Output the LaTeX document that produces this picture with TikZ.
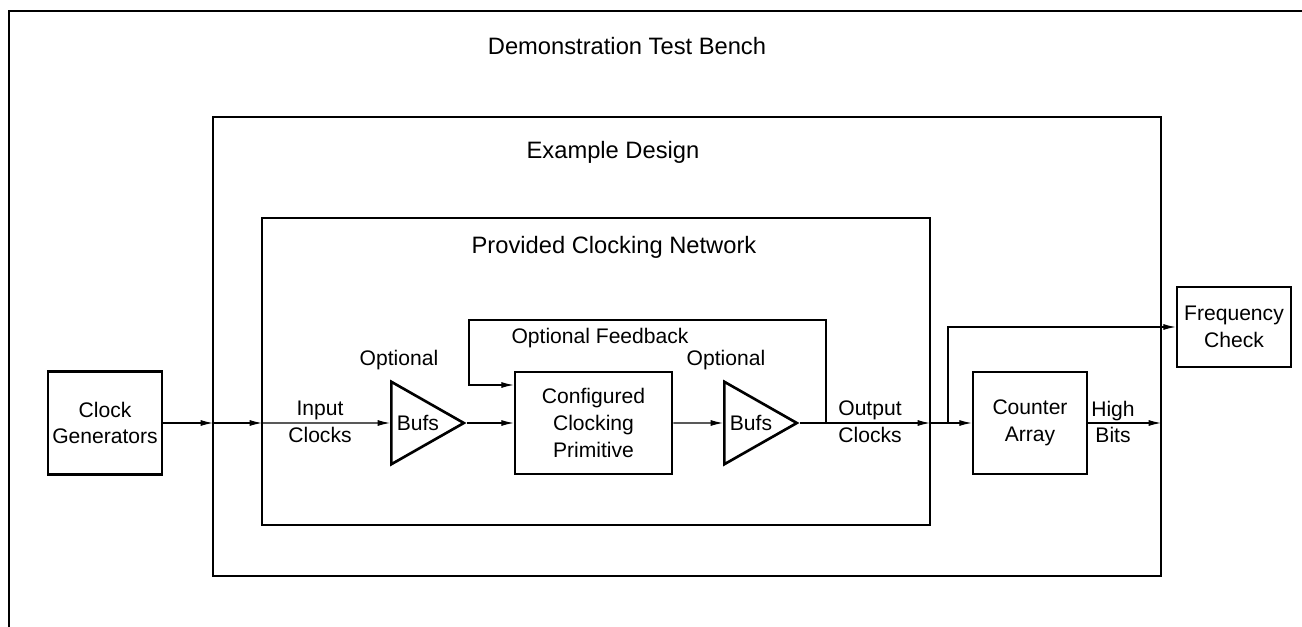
\documentclass[tikz,border=0pt]{standalone}
\usepackage{fontspec}
\setmainfont{Liberation Sans}
\usetikzlibrary{shapes.geometric,arrows.meta}
\newcommand\lblfont{\fontsize{12}{15.3}\selectfont}
\newcommand\ttlfont{\fontsize{13.5}{16}\selectfont}
\begin{document}
\begin{tikzpicture}[x=0.02cm, y=-0.02cm]
                % Define styles
                \tikzstyle{box} = [font=\lblfont, rectangle, draw, line width=1.5pt, align=center, inner sep=0pt]
                \tikzstyle{buf} = [font=\lblfont, isosceles triangle, isosceles triangle stretches, draw, line width=1.5pt, inner sep=0pt, minimum height=1.45cm, minimum width=1.65cm, anchor=lower side]
                \tikzstyle{frame_box} = [draw, line width=1.3pt]
                \tikzstyle{frame_title} = [font=\ttlfont]
                \tikzstyle{sig_text} = [font=\lblfont, align=center]
                \tikzstyle{line} = [draw, -{Latex[length=7pt, width=3.4pt]}, line width=0.6pt]

                \useasboundingbox (0,0) rectangle (1302,626);

                % Frames
                \draw [frame_box] (9,640) |- (1320,11);
                \draw [frame_box] (213,117) rectangle (1161,576);
                \draw [frame_box] (262,218) rectangle (930,525);
                \node [frame_title] (bench_title) at (627,46) {Demonstration Test Bench};
                \node [frame_title] (design_title) at (613,152) {Example Design};
                \node [frame_title] (network_title) at (614,247) {Provided Clocking Network};

                % Nodes
                \node [box, minimum width=2.28cm, minimum height=2.06cm] (clk_gen) at (105,423) {Clock\\Generators};
                \node [buf] (buf_in) at (390,423) {Bufs};
                \node [box, minimum width=3.14cm, minimum height=2.04cm] (prim) at (593.5,423) {Configured\\Clocking\\Primitive};
                \node [buf] (buf_out) at (723,423) {Bufs};
                \node [box, minimum width=2.28cm, minimum height=2.04cm] (counter) at (1030,423) {Counter\\Array};
                \node [box, minimum width=2.28cm, minimum height=1.6cm] (freq_check) at (1234,327) {Frequency\\Check};

                % Texts
                \node [sig_text] (in_clk_text) at (320,422) {Input\\Clocks};
                \node [sig_text] (opt_in_text) at (399,360) {Optional};
                \node [sig_text] (opt_out_text) at (726,360) {Optional};
                \node [sig_text] (fb_text) at (600,338) {Optional Feedback};
                \node [sig_text] (out_clk_text) at (870,422) {Output\\Clocks};
                \node [sig_text] (high_text) at (1113,422) {High\\Bits};

                % Points
                \coordinate (design_in) at (213,423);
                \coordinate (network_in) at (262,423);
                \coordinate (fb_tap) at (826,423);
                \coordinate (fb_top) at (469,320);
                \coordinate (fb_in) at (469,385);
                \coordinate (network_out) at (930,423);
                \coordinate (split) at (948,423);
                \coordinate (design_out) at (1161,423);

                % Lines
                \path [line] (clk_gen) -- (design_in);
                \path [line] (design_in) -- (network_in);
                \path [line] (network_in) -- (buf_in);
                \path [line] (buf_in.apex) -- (prim);
                \path [line] (prim) -- (buf_out);
                \path [line] (buf_out.apex) -- (network_out);
                \path [line] (fb_tap) |- (fb_top) -- (fb_in) -- (prim.west |- fb_in);
                \path [line] (network_out) -- (counter);
                \path [line] (split) |- (freq_check);
                \path [line] (counter) -- (design_out);
            \end{tikzpicture}
\end{document}
